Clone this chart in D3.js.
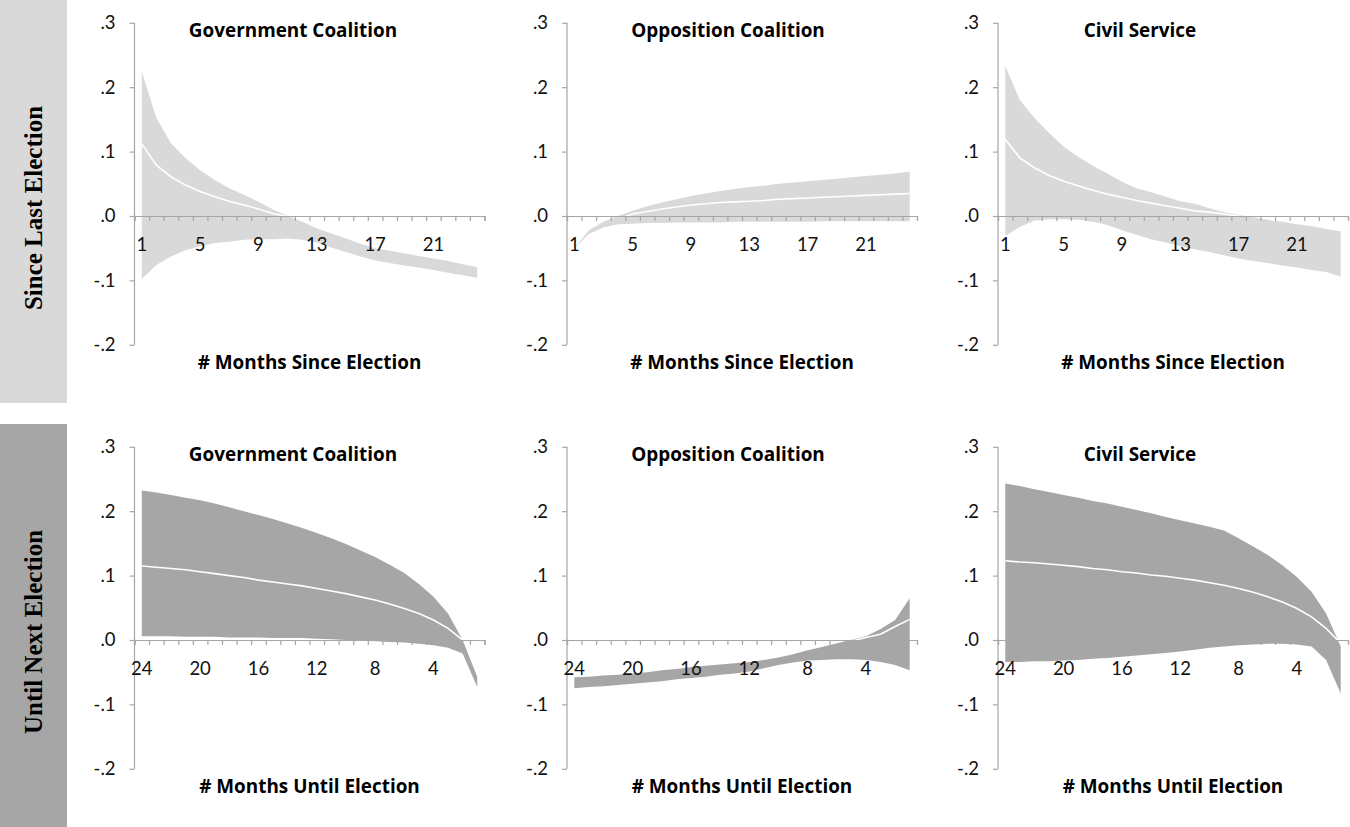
<!DOCTYPE html>
<html>
<head>
<meta charset="utf-8">
<script src="https://cdn.jsdelivr.net/npm/d3@7"></script>
<style>
    body { margin: 0; background: #fff; }
    svg { display: block; }
    .tick text { font-family: Lato, "Open Sans", sans-serif; font-size: 18.5px; fill: #111; }
    .axe path, .axe line { stroke: #a6a6a6; stroke-width: 1.2; }
    .titre { font-family: "Open Sans", Lato, sans-serif; font-weight: bold; font-size: 18.9px; fill: #000; }
</style>
</head>
<body>
<svg id="graphique" width="1350" height="827"></svg>
<script>
'use strict';

// Catégories (mois) et étiquettes
const moisDepuis = d3.range(1, 25);
const moisJusqua = d3.range(24, 0, -1);
const etiquettesDepuis = [1, 5, 9, 13, 17, 21];
const etiquettesJusqua = [24, 20, 16, 12, 8, 4];
const ticksY = [0.3, 0.2, 0.1, 0, -0.1, -0.2];

const titresColonnes = ["Government Coalition", "Opposition Coalition", "Civil Service"];
const titresLignes = ["Since Last Election", "Until Next Election"];
const titresAxeX = ["# Months Since Election", "# Months Until Election"];

// Depuis la dernière élection (mois 1 -> 24)
const govDepuisHaut = [0.224, 0.152, 0.113, 0.090, 0.071, 0.056, 0.043, 0.033, 0.022, 0.010, 0.000, -0.009, -0.019, -0.027, -0.035, -0.043, -0.050, -0.054, -0.058, -0.062, -0.066, -0.070, -0.075, -0.079];
const govDepuisMoy = [0.112, 0.079, 0.061, 0.048, 0.038, 0.030, 0.023, 0.017, 0.011, 0.004, -0.001, -0.012, -0.024, -0.032, -0.040, -0.048, -0.055, -0.059, -0.063, -0.067, -0.071, -0.075, -0.079, -0.083];
const govDepuisBas = [-0.098, -0.076, -0.063, -0.053, -0.047, -0.042, -0.040, -0.037, -0.036, -0.036, -0.035, -0.037, -0.041, -0.049, -0.056, -0.063, -0.069, -0.073, -0.077, -0.080, -0.084, -0.088, -0.092, -0.096];

const oppDepuisHaut = [-0.050, -0.022, -0.009, 0.000, 0.008, 0.015, 0.021, 0.026, 0.031, 0.035, 0.039, 0.042, 0.045, 0.047, 0.050, 0.052, 0.054, 0.056, 0.058, 0.060, 0.062, 0.064, 0.066, 0.069];
const oppDepuisMoy = [-0.050, -0.026, -0.014, -0.005, 0.003, 0.007, 0.011, 0.014, 0.017, 0.019, 0.021, 0.022, 0.023, 0.024, 0.026, 0.027, 0.028, 0.029, 0.030, 0.031, 0.032, 0.033, 0.034, 0.035];
const oppDepuisBas = [-0.050, -0.028, -0.018, -0.013, -0.012, -0.011, -0.011, -0.010, -0.010, -0.010, -0.010, -0.009, -0.009, -0.009, -0.009, -0.009, -0.009, -0.008, -0.008, -0.008, -0.008, -0.008, -0.008, -0.008];

const civDepuisHaut = [0.233, 0.180, 0.152, 0.129, 0.108, 0.092, 0.078, 0.066, 0.053, 0.043, 0.037, 0.030, 0.023, 0.019, 0.012, 0.006, 0.002, -0.002, -0.006, -0.009, -0.013, -0.016, -0.020, -0.024];
const civDepuisMoy = [0.119, 0.090, 0.075, 0.063, 0.054, 0.047, 0.040, 0.034, 0.029, 0.024, 0.020, 0.016, 0.012, 0.008, 0.006, 0.003, 0.000, -0.004, -0.008, -0.012, -0.016, -0.020, -0.024, -0.028];
const civDepuisBas = [-0.031, -0.017, -0.007, -0.005, -0.005, -0.006, -0.009, -0.014, -0.022, -0.029, -0.036, -0.041, -0.047, -0.052, -0.056, -0.061, -0.066, -0.070, -0.073, -0.077, -0.080, -0.084, -0.087, -0.094];

// Jusqu'à la prochaine élection (mois 24 -> 1)
const govJusquaHaut = [0.232, 0.229, 0.225, 0.221, 0.217, 0.212, 0.206, 0.200, 0.194, 0.188, 0.181, 0.174, 0.166, 0.158, 0.149, 0.139, 0.129, 0.117, 0.104, 0.087, 0.067, 0.041, 0.000, -0.057];
const govJusquaMoy = [0.115, 0.113, 0.111, 0.109, 0.106, 0.103, 0.100, 0.097, 0.093, 0.090, 0.087, 0.084, 0.080, 0.076, 0.072, 0.067, 0.062, 0.056, 0.049, 0.041, 0.031, 0.018, 0.000, -0.065];
const govJusquaBas = [0.006, 0.006, 0.006, 0.005, 0.005, 0.005, 0.004, 0.004, 0.004, 0.003, 0.003, 0.003, 0.002, 0.001, 0.000, -0.001, -0.002, -0.003, -0.004, -0.006, -0.008, -0.012, -0.021, -0.073];

const oppJusquaHaut = [-0.058, -0.057, -0.055, -0.054, -0.052, -0.050, -0.047, -0.045, -0.042, -0.040, -0.038, -0.036, -0.034, -0.031, -0.027, -0.022, -0.016, -0.011, -0.005, 0.000, 0.006, 0.017, 0.031, 0.065];
const oppJusquaMoy = [-0.066, -0.065, -0.063, -0.062, -0.060, -0.058, -0.056, -0.053, -0.051, -0.049, -0.046, -0.044, -0.041, -0.037, -0.033, -0.028, -0.024, -0.019, -0.013, -0.002, 0.004, 0.009, 0.021, 0.032];
const oppJusquaBas = [-0.075, -0.073, -0.072, -0.070, -0.068, -0.066, -0.064, -0.061, -0.059, -0.057, -0.054, -0.052, -0.049, -0.044, -0.039, -0.035, -0.032, -0.031, -0.030, -0.030, -0.031, -0.034, -0.039, -0.047];

const civJusquaHaut = [0.243, 0.239, 0.234, 0.230, 0.225, 0.221, 0.216, 0.212, 0.207, 0.202, 0.197, 0.191, 0.186, 0.181, 0.176, 0.170, 0.158, 0.145, 0.132, 0.116, 0.098, 0.075, 0.041, -0.010];
const civJusquaMoy = [0.123, 0.121, 0.120, 0.118, 0.116, 0.114, 0.111, 0.109, 0.106, 0.104, 0.101, 0.099, 0.096, 0.093, 0.089, 0.085, 0.080, 0.074, 0.067, 0.059, 0.049, 0.036, 0.018, -0.005];
const civJusquaBas = [-0.034, -0.034, -0.033, -0.033, -0.032, -0.031, -0.029, -0.028, -0.026, -0.024, -0.022, -0.020, -0.018, -0.015, -0.012, -0.010, -0.008, -0.007, -0.006, -0.006, -0.007, -0.010, -0.031, -0.083];

// Mise en page
const couleursLignes = ["#d9d9d9", "#a6a6a6"];
const axeXColonnes = [134.5, 567, 998];
const centreTitres = [293, 728, 1140];
const largeurAxe = 350;
const zeroLignes = [216, 640];
const pxParUnite = 644;

const svg = d3.select("#graphique");

/**
 * Formater une valeur de l'axe Y à la manière d'Excel (ex.: -.1)
 * @param {*} d
 */
function formaterY(d) {
    return d3.format(".1f")(d).replace("\u2212", "-").replace("0.", ".");
}

/**
 * Dessiner un panneau : bande, moyenne, axes et titres
 */
function dessinerPanneau(ligne, col, mois, etiquettes, haut, moy, bas) {
    const x0 = axeXColonnes[col];
    const zero = zeroLignes[ligne];
    const id = "p" + ligne + col;

    const x = d3.scaleBand().domain(mois).range([x0, x0 + largeurAxe]);
    const y = d3.scaleLinear().domain([-0.2, 0.3])
        .range([zero + 0.2 * pxParUnite, zero - 0.3 * pxParUnite]);
    const bords = d3.scaleLinear().domain([0, mois.length]).range([x0, x0 + largeurAxe]);

    const donnees = mois.map((m, i) => ({ m: m, haut: haut[i], moy: moy[i], bas: bas[i] }));
    const cx = d => x(d.m) + x.bandwidth() / 2;

    // Bande de confiance
    svg.append("path")
        .datum(donnees)
        .attr("fill", couleursLignes[ligne])
        .attr("d", d3.area().x(cx).y0(d => y(d.bas)).y1(d => y(d.haut)));

    // Moyenne (visible seulement au-dessus de zéro)
    svg.append("clipPath").attr("id", "clip-" + id)
        .append("rect")
        .attr("x", x0).attr("y", y(0.3))
        .attr("width", largeurAxe + 10).attr("height", y(0) - y(0.3));
    svg.append("path")
        .datum(donnees)
        .attr("fill", "none")
        .attr("stroke", "#fff")
        .attr("stroke-width", 1.6)
        .attr("clip-path", "url(#clip-" + id + ")")
        .attr("d", d3.line().x(cx).y(d => y(d.moy)));

    // Axe Y
    svg.append("g")
        .attr("class", "axe")
        .attr("transform", `translate(${x0},0)`)
        .call(d3.axisLeft(y).tickValues(ticksY).tickSize(5).tickPadding(14).tickFormat(formaterY))
        .call(g => g.select(".domain").attr("d", `M0,${y(0.3)}V${y(-0.2)}`));

    // Axe X : petits traits aux limites des mois
    svg.append("g")
        .attr("class", "axe")
        .attr("transform", `translate(0,${y(0)})`)
        .call(d3.axisBottom(bords).ticks(mois.length).tickSize(5).tickSizeOuter(5).tickFormat(""));

    // Axe X : étiquettes au centre des mois
    svg.append("g")
        .attr("class", "axe")
        .attr("transform", `translate(0,${y(0)})`)
        .call(d3.axisBottom(x).tickValues(etiquettes).tickSize(0).tickPadding(22))
        .call(g => g.select(".domain").remove());

    // Titre du panneau
    svg.append("text")
        .attr("class", "titre")
        .attr("x", centreTitres[col])
        .attr("y", y(0.3) + 14)
        .attr("text-anchor", "middle")
        .text(titresColonnes[col]);

    // Titre de l'axe X
    svg.append("text")
        .attr("class", "titre")
        .attr("x", x0 + largeurAxe / 2)
        .attr("y", y(-0.2) + 24)
        .attr("text-anchor", "middle")
        .text(titresAxeX[ligne]);
}

// Bandeaux des lignes
titresLignes.forEach((t, i) => {
    const haut = i === 0 ? 0 : 424;
    svg.append("rect")
        .attr("x", 0).attr("y", haut)
        .attr("width", 67).attr("height", 403)
        .attr("fill", couleursLignes[i]);
    svg.append("text")
        .attr("transform", `translate(42,${haut + 208}) rotate(-90)`)
        .attr("text-anchor", "middle")
        .style("font-family", "'Liberation Serif', 'Times New Roman', serif")
        .style("font-weight", "bold")
        .style("font-size", "25px")
        .text(t);
});

dessinerPanneau(0, 0, moisDepuis, etiquettesDepuis, govDepuisHaut, govDepuisMoy, govDepuisBas);
dessinerPanneau(0, 1, moisDepuis, etiquettesDepuis, oppDepuisHaut, oppDepuisMoy, oppDepuisBas);
dessinerPanneau(0, 2, moisDepuis, etiquettesDepuis, civDepuisHaut, civDepuisMoy, civDepuisBas);
dessinerPanneau(1, 0, moisJusqua, etiquettesJusqua, govJusquaHaut, govJusquaMoy, govJusquaBas);
dessinerPanneau(1, 1, moisJusqua, etiquettesJusqua, oppJusquaHaut, oppJusquaMoy, oppJusquaBas);
dessinerPanneau(1, 2, moisJusqua, etiquettesJusqua, civJusquaHaut, civJusquaMoy, civJusquaBas);
</script>
</body>
</html>
